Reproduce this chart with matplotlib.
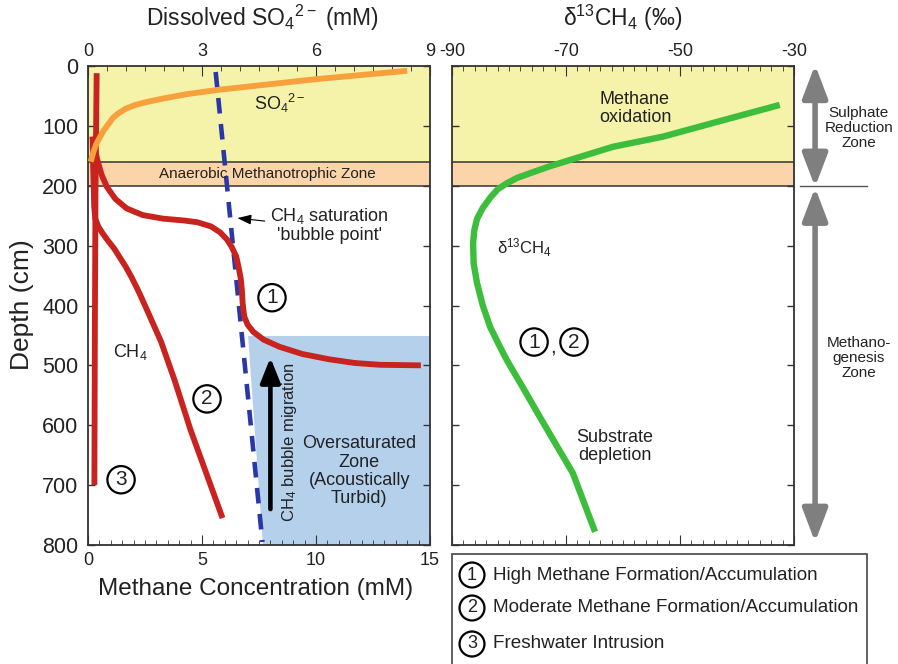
import numpy as np
import matplotlib.pyplot as plt
from matplotlib.patches import Rectangle
from matplotlib.ticker import MultipleLocator, FixedLocator

plt.rcParams['font.family'] = ['Liberation Sans', 'DejaVu Sans']
plt.rcParams['mathtext.fontset'] = 'custom'
plt.rcParams['mathtext.rm'] = 'Liberation Sans'
plt.rcParams['mathtext.it'] = 'Liberation Sans:italic'
plt.rcParams['mathtext.bf'] = 'Liberation Sans:bold'
plt.rcParams['axes.unicode_minus'] = False
plt.rcParams['text.color'] = '#222222'

# ---------- data ----------
# dissolved sulphate (mM SO4) vs depth (cm)
so4_conc  = [8.4, 7.2, 6.0, 4.7, 3.4, 2.6, 2.0, 1.55, 1.25, 1.0, 0.8, 0.65, 0.55, 0.42, 0.32, 0.22, 0.15, 0.07]
so4_depth = [8, 15, 22, 31, 40, 47, 54, 60, 65, 71, 79, 87, 96, 107, 118, 130, 142, 160]

# methane profiles (mM) vs depth (cm)
ch4_high_conc  = [0.2, 0.28, 0.41, 0.6, 0.83, 1.2, 1.7, 2.4, 3.3, 4.2, 4.8, 5.4, 5.8, 6.1, 6.3,
                  6.5, 6.6, 6.7, 6.75, 6.78, 6.85, 7.0, 7.25, 7.7, 8.4, 9.4, 10.6, 11.7, 12.8, 14.6]
ch4_high_depth = [118, 135, 157, 182, 202, 222, 238, 249, 255, 258, 261, 268, 278, 290, 302,
                  318, 335, 355, 374, 395, 418, 432, 444, 457, 469, 481, 490, 496, 499, 500]
ch4_mod_conc   = [0.2, 0.22, 0.25, 0.27, 0.32, 0.45, 0.65, 0.9, 1.15, 1.4, 1.65, 1.9, 2.2, 2.5,
                  3.2, 3.8, 4.5, 5.9]
ch4_mod_depth  = [118, 160, 200, 235, 255, 268, 280, 293, 305, 320, 335, 352, 375, 400,
                  460, 525, 608, 755]
ch4_fresh_conc  = [0.38, 0.33, 0.3, 0.28]
ch4_fresh_depth = [12, 200, 450, 700]

# CH4 saturation ("bubble point") line
sat_conc  = [5.6, 7.65]
sat_depth = [10, 795]

# oversaturated zone outline
over_depth = [450, 800]
over_left  = [7.0, 7.65]

# d13C of methane (permil) vs depth (cm)
d13c_val   = [-32.5, -43, -53, -61.8, -69.3, -73, -76.3, -78.6, -80.4, -82, -83.3, -84.6, -85.6,
              -86.1, -86.3, -86.2, -85.6, -84.6, -83.3, -81.8, -80.4, -77.5, -74.6, -68.8, -64.9]
d13c_depth = [65, 92, 118, 135, 157, 168, 179, 187, 196, 206, 220, 237, 255,
              275, 296, 330, 363, 400, 436, 465, 491, 538, 586, 680, 778]

d13c_ticks = [-90, -70, -50, -30]

legend_items = ['High Methane Formation/Accumulation',
                'Moderate Methane Formation/Accumulation',
                'Freshwater Intrusion']

YELLOW = '#f5f2aa'
PEACH = '#fbd5a9'
BLUE = '#b5d0eb'
RED = '#c8231e'
ORANGE = '#f7a03c'
GREEN = '#3cbe3c'
DASH = '#2a37a8'
GRAY = '#7f7f7f'
EDGE = '#333333'


def circled(ax, x, y, s, fs=15, **kw):
    ax.text(x, y, s, fontsize=fs, ha='center', va='center', zorder=6,
            bbox=dict(boxstyle='circle,pad=0.2', fc='none', ec='black', lw=1.6), **kw)


fig = plt.figure(figsize=(8.98, 6.64), dpi=100)
W, H = 898, 664
ax = fig.add_axes([88 / W, 1 - 545 / H, 342 / W, 479 / H])
axr = fig.add_axes([452 / W, 1 - 545 / H, 342 / W, 479 / H])

# ---------- shared styling ----------
for a in (ax, axr):
    a.axhspan(0, 160, color=YELLOW, lw=0, zorder=0.1)
    a.axhspan(160, 200, color=PEACH, lw=0, zorder=0.1)
    a.axhline(160, color=EDGE, lw=1.1, zorder=0.5)
    a.axhline(200, color=EDGE, lw=1.1, zorder=0.5)
    a.set_ylim(800, 0)
    a.yaxis.set_major_locator(MultipleLocator(100))
    a.tick_params(axis='y', direction='in', left=True, right=True, length=5, width=1, colors=EDGE)
    for sp in a.spines.values():
        sp.set_color(EDGE)
        sp.set_linewidth(1.3)

# ---------- left panel ----------
ax.fill_betweenx(over_depth, over_left, 15, color=BLUE, lw=0, zorder=0.2)
ax.plot(sat_conc, sat_depth, color=DASH, lw=3.3, dashes=(3.4, 2.3), zorder=3)

ax.plot(ch4_fresh_conc, ch4_fresh_depth, color=RED, lw=4.2, solid_capstyle='butt', zorder=4)
ax.plot(ch4_mod_conc, ch4_mod_depth, color=RED, lw=4.2, solid_capstyle='butt', zorder=4)
ax.plot(ch4_high_conc, ch4_high_depth, color=RED, lw=4.2, solid_capstyle='butt', zorder=4)

ax.set_xlim(0, 15)
ax.xaxis.set_major_locator(MultipleLocator(5))
ax.xaxis.set_minor_locator(MultipleLocator(0.5))
ax.tick_params(axis='x', which='both', direction='in', top=False, bottom=True, colors=EDGE, labelsize=13, pad=5)
ax.tick_params(axis='x', which='major', length=7)
ax.tick_params(axis='x', which='minor', length=3.5)
ax.tick_params(axis='y', labelsize=15.5, pad=7)
for lab in ax.get_xticklabels() + ax.get_yticklabels():
    lab.set_color('#222222')

ax_top = ax.twiny()
ax_top.set_xlim(0, 9)
ax_top.plot(so4_conc, so4_depth, color=ORANGE, lw=4.2, solid_capstyle='butt', zorder=5)
ax_top.xaxis.set_major_locator(MultipleLocator(3))
ax_top.xaxis.set_minor_locator(MultipleLocator(0.5))
ax_top.tick_params(axis='x', which='both', direction='in', colors=EDGE, labelsize=13, pad=4)
ax_top.tick_params(axis='x', which='major', length=7)
ax_top.tick_params(axis='x', which='minor', length=3.5)
for lab in ax_top.get_xticklabels():
    lab.set_color('#222222')
for sp in ax_top.spines.values():
    sp.set_visible(False)

ax.text(8.4, 62, 'SO$_4$$^{2-}$', fontsize=13, ha='center', va='center', zorder=6)
ax.text(7.85, 180, 'Anaerobic Methanotrophic Zone', fontsize=11, ha='center', va='center', zorder=6)
ax.text(10.6, 266, "CH$_4$ saturation\n'bubble point'", fontsize=13, ha='center', va='center',
        linespacing=1.05, zorder=6)
ax.annotate('', xy=(6.55, 254), xytext=(7.75, 259),
            arrowprops=dict(arrowstyle='-|>,head_width=0.25,head_length=0.7', lw=0.8,
                            color='black', mutation_scale=12, shrinkA=0, shrinkB=0), zorder=6)
ax.text(1.84, 477, 'CH$_4$', fontsize=13, ha='center', va='center', zorder=6)
circled(ax, 8.07, 387, '1')
circled(ax, 5.22, 556, '2')
circled(ax, 1.45, 691, '3')
ax.annotate('', xy=(8.0, 487), xytext=(8.0, 740),
            arrowprops=dict(arrowstyle='-|>,head_width=0.3,head_length=0.75', lw=3.3,
                            color='black', mutation_scale=20, shrinkA=0, shrinkB=0), zorder=6)
ax.text(8.85, 628, 'CH$_4$ bubble migration', fontsize=12, rotation=90, ha='center', va='center', zorder=6)
ax.text(11.9, 677, 'Oversaturated\nZone\n(Acoustically\nTurbid)', fontsize=13, ha='center',
        va='center', linespacing=1.1, zorder=6)

# ---------- right panel ----------
axr.plot(d13c_val, d13c_depth, color=GREEN, lw=4.6, solid_capstyle='butt', zorder=4)
axr.set_xlim(-90, -30)
axr.xaxis.set_major_locator(FixedLocator(d13c_ticks))
axr.xaxis.set_minor_locator(MultipleLocator(2))
axr.tick_params(axis='x', which='both', direction='in', top=True, bottom=True,
                labeltop=True, labelbottom=False, colors=EDGE, labelsize=13, pad=4)
axr.tick_params(axis='x', which='major', length=7)
axr.tick_params(axis='x', which='minor', length=3.5)
axr.tick_params(axis='y', labelleft=False)
for lab in axr.get_xticklabels():
    lab.set_color('#222222')

axr.text(-57.9, 71, 'Methane\noxidation', fontsize=13, ha='center', va='center', linespacing=1.05, zorder=6)
axr.text(-77.2, 304, 'δ$^{13}$CH$_4$', fontsize=12, ha='center', va='center', zorder=6)
circled(axr, -75.6, 461, '1')
axr.text(-72.2, 470, ',', fontsize=15, ha='center', va='center', zorder=6)
circled(axr, -68.6, 461, '2')
axr.text(-61.4, 636, 'Substrate\ndepletion', fontsize=13, ha='center', va='center', linespacing=1.05, zorder=6)

# zone arrows on the right
axr.annotate('', xy=(-26.3, -2), xytext=(-26.3, 202), annotation_clip=False,
             arrowprops=dict(arrowstyle='<|-|>,head_width=0.38,head_length=1.0', lw=4,
                             color=GRAY, mutation_scale=20, shrinkA=0, shrinkB=0))
axr.annotate('', xy=(-26.3, 203), xytext=(-26.3, 795), annotation_clip=False,
             arrowprops=dict(arrowstyle='<|-|>,head_width=0.38,head_length=1.0', lw=4,
                             color=GRAY, mutation_scale=20, shrinkA=0, shrinkB=0))
axr.plot([-28.9, -17.2], [200, 200], color='#555555', lw=1, clip_on=False)
axr.text(-18.6, 103, 'Sulphate\nReduction\nZone', fontsize=11, ha='center', va='center',
         linespacing=1.1, clip_on=False)
axr.text(-18.6, 488, 'Methano-\ngenesis\nZone', fontsize=11, ha='center', va='center',
         linespacing=1.1, clip_on=False)

# ---------- axis titles ----------
fig.text(263 / W, 1 - 18 / H, 'Dissolved SO$_4$$^{2-}$ (mM)', fontsize=16.5, ha='center', va='center')
fig.text(623 / W, 1 - 18 / H, 'δ$^{13}$CH$_4$ (‰)', fontsize=16.5, ha='center', va='center')
fig.text(256 / W, 1 - 589 / H, 'Methane Concentration (mM)', fontsize=17.5, ha='center', va='center')
fig.text(22 / W, 1 - 305 / H, 'Depth (cm)', fontsize=19, rotation=90, ha='center', va='center')

# ---------- legend box ----------
fig.patches.append(Rectangle((452 / W, -0.02), 415 / W, 1 - 554 / H + 0.02, transform=fig.transFigure,
                             fc='white', ec='#444444', lw=1.2))
for i, (lbl, ypx) in enumerate(zip(legend_items, [575, 608, 644])):
    fig.text(472 / W, 1 - ypx / H, str(i + 1), fontsize=13, ha='center', va='center',
             bbox=dict(boxstyle='circle,pad=0.22', fc='none', ec='black', lw=1.6))
    fig.text(493 / W, 1 - ypx / H, lbl, fontsize=13.6, ha='left', va='center')

fig.savefig('out.png', dpi=100)
